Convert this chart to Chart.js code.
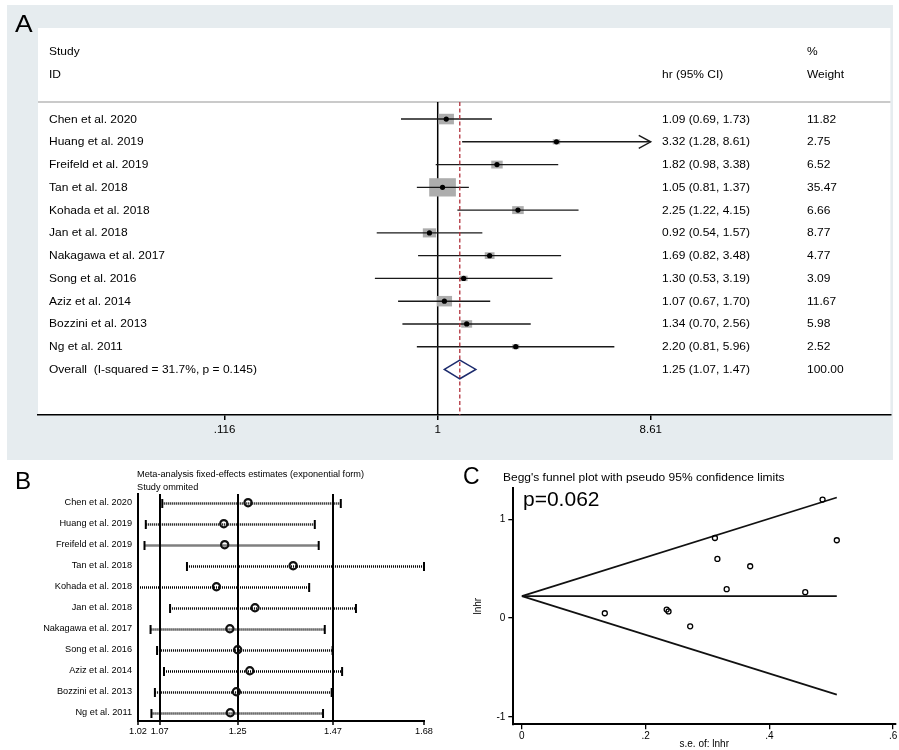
<!DOCTYPE html>
<html>
<head>
<meta charset="utf-8">
<script src="https://cdn.jsdelivr.net/npm/chart.js@4.4.1/dist/chart.umd.min.js"></script>
<style>
  html, body { margin: 0; padding: 0; background: #fff; }
  body { width: 899px; height: 750px; position: relative; overflow: hidden; }
  .pane { position: absolute; }
  .pane canvas { display: block; }
  #paneA { left: 7px; top: 5px; }
  #paneB { left: 0px; top: 462px; }
  #paneC { left: 450px; top: 462px; }
</style>
</head>
<body>
<div class="pane" id="paneA"><canvas id="forest" width="886" height="455"></canvas></div>
<div class="pane" id="paneB"><canvas id="influence" width="450" height="288"></canvas></div>
<div class="pane" id="paneC"><canvas id="funnel" width="449" height="288"></canvas></div>
<script>
// ---- Study list ----
const studies = ['Chen et al. 2020', 'Huang et al. 2019', 'Freifeld et al. 2019', 'Tan et al. 2018',
  'Kohada et al. 2018', 'Jan et al. 2018', 'Nakagawa et al. 2017', 'Song et al. 2016',
  'Aziz et al. 2014', 'Bozzini et al. 2013', 'Ng et al. 2011'];

// ---- A: forest plot (hazard ratios) ----
const hr      = [1.09, 3.32, 1.82, 1.05, 2.25, 0.92, 1.69, 1.30, 1.07, 1.34, 2.20];
const hrLow   = [0.69, 1.28, 0.98, 0.81, 1.22, 0.54, 0.82, 0.53, 0.67, 0.70, 0.81];
const hrHigh  = [1.73, 8.61, 3.38, 1.37, 4.15, 1.57, 3.48, 3.19, 1.70, 2.56, 5.96];
const weights = [11.82, 2.75, 6.52, 35.47, 6.66, 8.77, 4.77, 3.09, 11.67, 5.98, 2.52];
const pooled  = [1.25, 1.07, 1.47];          // estimate, lower, upper
const pooledWeight = 100.00;
const overallLabel = 'Overall  (I-squared = 31.7%, p = 0.145)';
const forestTicks = [0.116, 1, 8.61];
const forestTickLabels = ['.116', '1', '8.61'];

// ---- B: leave-one-out fixed-effects estimates ----
const looEst  = [1.274, 1.218, 1.220, 1.378, 1.201, 1.290, 1.232, 1.250, 1.278, 1.247, 1.233];
const looLow  = [1.076, 1.038, 1.035, 1.133, 1.020, 1.094, 1.049, 1.064, 1.080, 1.059, 1.051];
const looHigh = [1.488, 1.428, 1.437, 1.680, 1.415, 1.523, 1.451, 1.469, 1.491, 1.467, 1.447];
const looTicks = [1.02, 1.07, 1.25, 1.47, 1.68];
const looRefLines = [1.07, 1.25, 1.47];

// ---- C: Begg's funnel plot ----
const funnelSe   = [0.234, 0.486, 0.316, 0.134, 0.312, 0.272, 0.369, 0.458, 0.237, 0.331, 0.509];
const funnelLnhr = [0.086, 1.200, 0.599, 0.049, 0.811, -0.083, 0.525, 0.262, 0.068, 0.293, 0.788];
const limitSe    = [0, 0.509];
const limitUpper = [0.223, 1.221];
const limitMid   = [0.223, 0.223];
const limitLower = [0.223, -0.775];
const seTicks = [0, 0.2, 0.4, 0.6];
const seTickLabels = ['0', '.2', '.4', '.6'];
const lnTicks = [-1, 0, 1];
const beggP = 'p=0.062';

const FONT = '"Liberation Sans", Arial, Helvetica, sans-serif';
Chart.defaults.font.family = FONT;
Chart.defaults.color = '#000';

function seg(ctx, x1, y1, x2, y2) {
  ctx.beginPath(); ctx.moveTo(x1, y1); ctx.lineTo(x2, y2); ctx.stroke();
}
function label(ctx, text, x, y, size, sx, align, baseline) {
  ctx.save();
  ctx.font = size + 'px ' + FONT;
  ctx.fillStyle = '#000';
  ctx.translate(x, y);
  ctx.scale(sx, 1);
  ctx.textAlign = align || 'left';
  ctx.textBaseline = baseline || 'middle';
  ctx.fillText(text, 0, 0);
  ctx.restore();
}
const f2 = v => v.toFixed(2);

// ---------------- Panel A ----------------
const forestMarks = {
  id: 'forestMarks',
  beforeDraw(chart) {
    const { ctx, chartArea: a, width, height } = chart;
    ctx.save();
    ctx.fillStyle = '#e6ecef';
    ctx.fillRect(0, 0, width, height);
    ctx.fillStyle = '#ffffff';
    ctx.fillRect(a.left, a.top, a.right - a.left, a.bottom - a.top);
    ctx.restore();
  },
  beforeDatasetsDraw(chart) {
    const { ctx, chartArea: a, scales: { x, y } } = chart;
    const ySep = y.getPixelForValue(-0.75);
    ctx.save();
    ctx.lineCap = 'butt';
    // header rule
    ctx.strokeStyle = '#b9b9b9'; ctx.lineWidth = 1.5;
    seg(ctx, a.left, ySep, a.right, ySep);
    // line of no effect
    const x1 = x.getPixelForValue(1);
    ctx.strokeStyle = '#000'; ctx.lineWidth = 1.5;
    seg(ctx, x1, ySep, x1, a.bottom);
    // weight boxes
    ctx.fillStyle = '#adadad';
    hr.forEach((v, i) => {
      const cx = x.getPixelForValue(v), cy = y.getPixelForValue(i);
      const s = Math.sqrt(weights[i]);
      const w = 4.48 * s, h = 3.07 * s;
      ctx.fillRect(cx - w / 2, cy - h / 2, w, h);
    });
    // confidence intervals
    const axisMax = forestTicks[forestTicks.length - 1];
    ctx.strokeStyle = '#1a1a1a'; ctx.lineWidth = 1.4;
    hr.forEach((v, i) => {
      const cy = y.getPixelForValue(i);
      const xl = x.getPixelForValue(hrLow[i]);
      const xh = x.getPixelForValue(Math.min(hrHigh[i], axisMax));
      seg(ctx, xl, cy, xh, cy);
      if (hrHigh[i] >= axisMax) {
        ctx.beginPath();
        ctx.moveTo(xh - 12, cy - 6.5); ctx.lineTo(xh, cy); ctx.lineTo(xh - 12, cy + 6.5);
        ctx.stroke();
      }
    });
    // pooled estimate line
    const xp = x.getPixelForValue(pooled[0]);
    ctx.strokeStyle = '#b1313b'; ctx.lineWidth = 1.3; ctx.setLineDash([4, 2.5]);
    seg(ctx, xp, ySep, xp, a.bottom);
    ctx.setLineDash([]);
    // pooled diamond
    const yo = y.getPixelForValue(hr.length);
    const xl = x.getPixelForValue(pooled[1]), xh = x.getPixelForValue(pooled[2]);
    ctx.strokeStyle = '#1c2b6d'; ctx.lineWidth = 1.5; ctx.lineJoin = 'miter';
    ctx.beginPath();
    ctx.moveTo(xl, yo); ctx.lineTo(xp, yo - 9.3); ctx.lineTo(xh, yo); ctx.lineTo(xp, yo + 9.3);
    ctx.closePath(); ctx.stroke();
    ctx.restore();
  },
  afterDraw(chart) {
    const { ctx, chartArea: a, scales: { y } } = chart;
    const c1 = a.left + 11, c2 = a.left + 624, c3 = a.left + 769;
    const S = 11, SX = 1.09;
    label(ctx, 'Study', c1, y.getPixelForValue(-3) + 1, S, SX);
    label(ctx, 'ID', c1, y.getPixelForValue(-2) + 1, S, SX);
    label(ctx, 'hr (95% CI)', c2, y.getPixelForValue(-2) + 1, S, SX);
    label(ctx, '%', c3, y.getPixelForValue(-3) + 1, S, SX);
    label(ctx, 'Weight', c3, y.getPixelForValue(-2) + 1, S, SX);
    studies.forEach((name, i) => {
      const cy = y.getPixelForValue(i) + 0.5;
      label(ctx, name, c1, cy, S, SX);
      label(ctx, f2(hr[i]) + ' (' + f2(hrLow[i]) + ', ' + f2(hrHigh[i]) + ')', c2, cy, S, SX);
      label(ctx, f2(weights[i]), c3, cy, S, SX);
    });
    const yo = y.getPixelForValue(hr.length) + 0.5;
    label(ctx, overallLabel, c1, yo, S, SX);
    label(ctx, f2(pooled[0]) + ' (' + f2(pooled[1]) + ', ' + f2(pooled[2]) + ')', c2, yo, S, SX);
    label(ctx, f2(pooledWeight), c3, yo, S, SX);
    label(ctx, 'A', 8, 27, 24, 1.1, 'left', 'alphabetic');
  }
};

new Chart(document.getElementById('forest'), {
  type: 'scatter',
  data: {
    datasets: [{
      data: hr.map((v, i) => ({ x: v, y: i })),
      pointRadius: 2.6, pointHoverRadius: 2.6,
      pointBackgroundColor: '#000', pointBorderWidth: 0
    }]
  },
  options: {
    responsive: false, animation: false, events: [],
    layout: { padding: { left: 31, right: 2, top: 23, bottom: 0 } },
    plugins: { legend: { display: false }, tooltip: { enabled: false } },
    scales: {
      x: {
        type: 'logarithmic', min: 0.01761, max: 97.0, position: 'bottom',
        afterBuildTicks: s => { s.ticks = forestTicks.map(v => ({ value: v })); },
        afterFit: s => { s.height = 45; s.paddingLeft = 0; s.paddingRight = 0; },
        ticks: { autoSkip: false, maxRotation: 0, padding: 3, color: '#000',
                 font: { size: 11.5 }, callback: (v, i) => forestTickLabels[i] },
        grid: { drawOnChartArea: false, drawTicks: true, tickLength: 5, color: '#000', lineWidth: 1.5 },
        border: { display: true, color: '#000', width: 1.5 }
      },
      y: { type: 'linear', reverse: true, min: -4, max: 13, display: false }
    }
  },
  plugins: [forestMarks]
});

// ---------------- Panel B ----------------
const looMarks = {
  id: 'looMarks',
  beforeDatasetsDraw(chart) {
    const { ctx, scales: { x, y } } = chart;
    ctx.save();
    looEst.forEach((_, i) => {
      const cy = Math.round(y.getPixelForValue(i)) + 0.5;
      const xl = x.getPixelForValue(looLow[i]), xh = x.getPixelForValue(looHigh[i]);
      ctx.strokeStyle = '#000'; ctx.lineWidth = 2.5; ctx.setLineDash([1, 1]);
      seg(ctx, xl, cy, xh, cy);
      ctx.setLineDash([]); ctx.strokeStyle = '#000'; ctx.lineWidth = 2;
      seg(ctx, xl, cy - 4.5, xl, cy + 4.5);
      seg(ctx, xh, cy - 4.5, xh, cy + 4.5);
    });
    ctx.restore();
  },
  afterDraw(chart) {
    const { ctx } = chart;
    label(ctx, 'Meta-analysis fixed-effects estimates (exponential form)', 137, 12, 9.2, 1);
    label(ctx, 'Study ommited', 137, 25, 9.2, 1);
    label(ctx, 'B', 15, 27, 23, 1.05, 'left', 'alphabetic');
  }
};

new Chart(document.getElementById('influence'), {
  type: 'scatter',
  data: {
    datasets: [{
      data: looEst.map((v, i) => ({ x: v, y: i })),
      pointRadius: 3.6, pointHoverRadius: 3.6, pointBorderWidth: 2.2,
      pointBorderColor: '#111', pointBackgroundColor: 'rgba(0,0,0,0)'
    }]
  },
  options: {
    responsive: false, animation: false, events: [],
    layout: { padding: { left: 0, right: 26, top: 32, bottom: 0 } },
    plugins: { legend: { display: false }, tooltip: { enabled: false } },
    scales: {
      x: {
        type: 'linear', min: 1.02, max: 1.68,
        afterBuildTicks: s => { s.ticks = looTicks.map(v => ({ value: v })); },
        afterFit: s => { s.height = 29; s.paddingLeft = 0; s.paddingRight = 0; },
        ticks: { autoSkip: false, maxRotation: 0, padding: 1, color: '#000',
                 font: { size: 9.2 }, callback: v => v.toFixed(2) },
        grid: {
          color: c => (c.tick && looRefLines.includes(c.tick.value)) ? '#000' : 'rgba(0,0,0,0)',
          lineWidth: 2, drawTicks: true, tickLength: 4, tickColor: '#000', tickWidth: 1.5
        },
        border: { display: true, color: '#000', width: 2 }
      },
      y: {
        type: 'linear', reverse: true, min: -0.414, max: 10.395,
        afterBuildTicks: s => { s.ticks = studies.map((_, i) => ({ value: i })); },
        afterFit: s => { s.width = 138; s.paddingTop = 0; s.paddingBottom = 0; },
        ticks: { autoSkip: false, padding: 6, color: '#000', font: { size: 9.2 },
                 callback: v => studies[v] },
        grid: { display: false, drawTicks: false },
        border: { display: true, color: '#000', width: 2 }
      }
    }
  },
  plugins: [looMarks]
});

// ---------------- Panel C ----------------
const funnelText = {
  id: 'funnelText',
  afterDraw(chart) {
    const { ctx } = chart;
    label(ctx, "Begg's funnel plot with pseudo 95% confidence limits", 53, 16, 11, 1.09);
    label(ctx, beggP, 73, 38, 21, 1);
    label(ctx, 'C', 13, 22, 23, 1.0, 'left', 'alphabetic');
  }
};
const limitLine = ys => ({
  data: limitSe.map((v, i) => ({ x: v, y: ys[i] })),
  showLine: true, borderColor: '#111', borderWidth: 1.7, pointRadius: 0, pointHoverRadius: 0
});

new Chart(document.getElementById('funnel'), {
  type: 'scatter',
  data: {
    datasets: [
      {
        data: funnelSe.map((v, i) => ({ x: v, y: funnelLnhr[i] })),
        pointRadius: 2.5, pointHoverRadius: 2.5, pointBorderWidth: 1.3,
        pointBorderColor: '#000', pointBackgroundColor: 'rgba(0,0,0,0)'
      },
      limitLine(limitUpper),
      limitLine(limitMid),
      limitLine(limitLower)
    ]
  },
  options: {
    responsive: false, animation: false, events: [],
    layout: { padding: { left: 0, right: 0, top: 26, bottom: 0 } },
    plugins: { legend: { display: false }, tooltip: { enabled: false } },
    scales: {
      x: {
        type: 'linear', min: -0.0139, max: 0.6034,
        afterBuildTicks: s => { s.ticks = seTicks.map(v => ({ value: v })); },
        afterFit: s => { s.height = 25.7; s.paddingLeft = 0; s.paddingRight = 0; },
        ticks: { autoSkip: false, maxRotation: 0, padding: 1, color: '#000',
                 font: { size: 10 }, callback: (v, i) => seTickLabels[i] },
        grid: { drawOnChartArea: false, drawTicks: true, tickLength: 5, color: '#000', lineWidth: 1.3 },
        border: { display: true, color: '#000', width: 2 },
        title: { display: true, text: 's.e. of: lnhr', color: '#000', font: { size: 10 },
                 padding: { top: 0, bottom: 0 } }
      },
      y: {
        type: 'linear', min: -1.075, max: 1.317,
        afterBuildTicks: s => { s.ticks = lnTicks.map(v => ({ value: v })); },
        afterFit: s => { s.width = 63.3; s.paddingTop = 0; s.paddingBottom = 0; },
        ticks: { autoSkip: false, padding: 3, color: '#000', font: { size: 10 },
                 callback: v => String(v) },
        grid: { drawOnChartArea: false, drawTicks: true, tickLength: 5, color: '#000', lineWidth: 1.3 },
        border: { display: true, color: '#000', width: 2 },
        title: { display: true, text: 'lnhr', color: '#000', font: { size: 10 },
                 padding: { top: 22, bottom: 0 } }
      }
    }
  },
  plugins: [funnelText]
});
</script>
</body>
</html>
